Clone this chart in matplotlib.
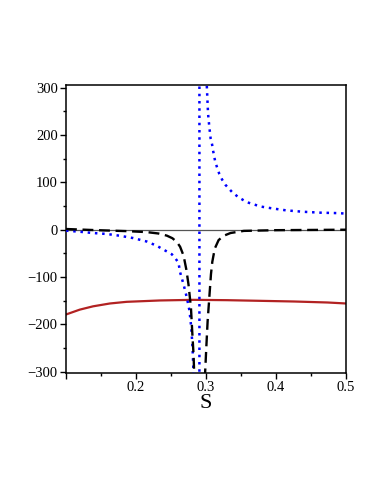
import matplotlib.pyplot as plt
from matplotlib.ticker import MultipleLocator

plt.rcParams['font.family'] = ['Liberation Serif', 'DejaVu Serif']

# red solid curve
s_red = [0.1005, 0.1197, 0.1387, 0.1627, 0.1866, 0.2344, 0.2822, 0.330, 0.378, 0.4257, 0.4735, 0.5]
v_red = [-179, -169, -162, -156, -152.5, -149.6, -148.3, -149, -150.4, -151.8, -153.9, -156]

# blue dotted curve (pole near S = 0.2906)
s_blue = [0.1, 0.1197, 0.1387, 0.158, 0.177, 0.196, 0.2154, 0.2297, 0.244, 0.2512, 0.256,
          0.2607, 0.263, 0.268, 0.2727, 0.2765, 0.279, 0.2808, 0.2822, 0.2850, 0.2885, 0.2906,
          0.2906, 0.295, 0.299, 0.3014, 0.3029, 0.3047, 0.3066, 0.3086, 0.310, 0.3133, 0.3162,
          0.319, 0.323, 0.3277, 0.337, 0.346, 0.354, 0.361, 0.378, 0.395, 0.414, 0.438, 0.464,
          0.49, 0.5]
v_blue = [-2, -4.3, -7, -9, -12.8, -17.7, -25, -34, -46, -52, -60,
          -70, -90, -116, -144, -172, -208, -250, -304, -420, -900, -5000,
          5000, 700, 380, 296, 246, 218, 193, 181, 168, 143, 130,
          118, 106, 95, 80, 69, 62, 57, 49, 45, 41, 38, 36,
          35, 34]

# black dashed curve (dip near S = 0.2909)
s_black = [0.1, 0.1387, 0.1866, 0.215, 0.232, 0.244, 0.2520, 0.2584, 0.2630, 0.2680, 0.2720,
           0.2750, 0.2785, 0.2803, 0.2822, 0.2832, 0.2870, 0.2909, 0.2950, 0.2986, 0.3004,
           0.3023, 0.3047, 0.3071, 0.3090, 0.3125, 0.318, 0.3250, 0.335, 0.354, 0.40, 0.45, 0.5]
v_black = [1.5, -0.7, -3.0, -5.0, -8.0, -12.5, -18, -26, -36, -55, -85,
           -116, -165, -215, -264, -307, -800, -3000, -800, -307, -250,
           -194, -144, -94, -68, -40, -22, -13, -7, -2.5, -1, -0.5, 0]

fig = plt.figure(figsize=(3.82, 4.94), dpi=100)
ax = fig.add_axes([66 / 382, 121 / 494, 280 / 382, 288 / 494])

ax.axhline(0, color='#555555', lw=0.9, zorder=1)
ax.plot(s_red, v_red, color='#b22222', lw=1.6, zorder=2)
ax.plot(s_blue, v_blue, color='#0000ff', lw=1.8, dashes=(1, 1.9), dash_capstyle='butt', zorder=3)
ax.plot(s_black, v_black, color='black', lw=1.7, dashes=(4.6, 2.4), zorder=4)

ax.set_xlim(0.1, 0.5)
ax.set_ylim(-303, 306)

ax.xaxis.set_major_locator(MultipleLocator(0.1))
ax.xaxis.set_minor_locator(MultipleLocator(0.05))
ax.yaxis.set_major_locator(MultipleLocator(100))
ax.yaxis.set_minor_locator(MultipleLocator(50))
ax.set_xticks([0.1, 0.2, 0.3, 0.4, 0.5])
ax.set_xticklabels(['', '0.2', '0.3', '0.4', '0.5'])

ax.tick_params(which='major', direction='out', length=4, width=1, labelsize=10.5, pad=2)
ax.tick_params(which='minor', direction='out', length=2, width=1)
ax.tick_params(top=False, right=False)
for sp in ax.spines.values():
    sp.set_linewidth(1.1)

ax.set_xlabel('S', fontsize=16, labelpad=0)

fig.savefig('out.png', dpi=100)
